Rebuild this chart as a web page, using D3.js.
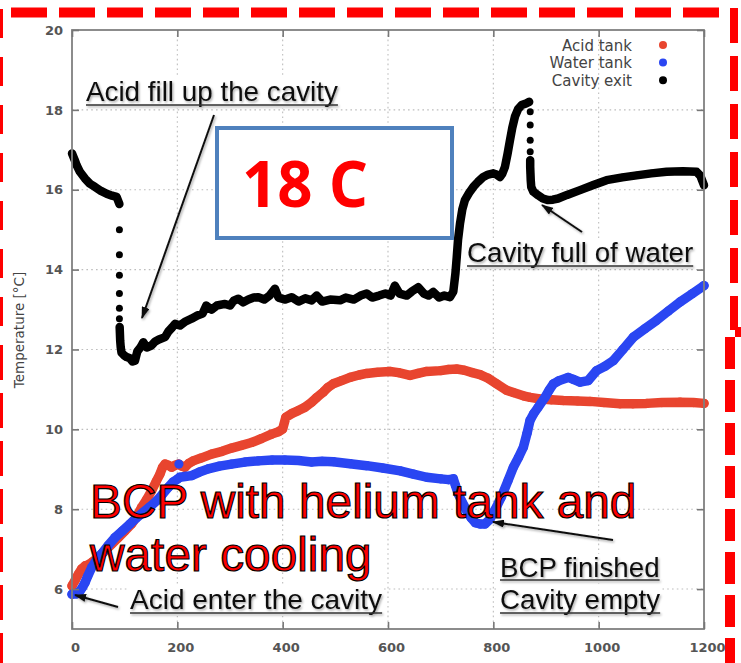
<!DOCTYPE html>
<html><head><meta charset="utf-8">
<script src="https://cdn.jsdelivr.net/npm/d3@7"></script>
<style>body{margin:0;background:#fff}svg{display:block}</style>
</head><body>
<svg id="chart" width="741" height="663"></svg>
<script>
// ---------- data ----------
const xTicks = [0, 200, 400, 600, 800, 1000, 1200];
const yTicks = [6, 8, 10, 12, 14, 16, 18, 20];
const seriesNames = ["Acid tank", "Water tank", "Cavity exit"];
const seriesColors = ["#e8452f", "#2a46f2", "#000000"];

// [time s, temperature °C]
const acidTank = [
[0,6.08],[6,6.22],[12,6.37],[18,6.50],[24.7,6.58],[30,6.60],[37,6.66],[50,6.80],[62.7,6.96],[75,7.12],
[88,7.29],[100,7.45],[113,7.63],[122,7.80],[132,8.04],[142,8.25],[151,8.46],[160,8.70],[167,8.88],[172,9.05],
[176.6,9.13],[183,9.10],[189,9.05],[196,9.10],[202,9.13],[208,9.08],[214.5,9.05],[222,9.15],[230,9.21],[245,9.28],
[265,9.38],[285,9.45],[303,9.53],[322,9.60],[341,9.67],[360,9.77],[379,9.88],[392,9.94],[400,10.01],[406,10.30],
[418,10.40],[429.7,10.47],[442,10.55],[455,10.68],[465,10.80],[477,10.93],[486,11.05],[496,11.14],[512,11.22],[528,11.30],
[545,11.36],[559.5,11.40],[580,11.43],[603.8,11.45],[620,11.42],[641.8,11.35],[657,11.40],[673.5,11.45],[700,11.47],[715,11.50],
[730.5,11.51],[745,11.48],[760,11.42],[774.7,11.37],[790,11.28],[806,11.14],[825,10.98],[838,10.92],[857,10.84],[870,10.80],
[888.6,10.76],[910,10.74],[933,10.72],[960,10.71],[983.5,10.70],[1010,10.67],[1040.5,10.64],[1065,10.64],[1091,10.65],[1120,10.67],
[1154.5,10.68],[1180,10.67],[1200,10.65]
];
const waterTank = [
[0,5.87],[8,5.88],[15,5.95],[20,6.05],[24.7,6.16],[30,6.33],[37.4,6.54],[46,6.72],[56,6.88],[68,7.08],
[81.6,7.29],[95,7.45],[110,7.63],[122,7.78],[135,7.92],[148,8.06],[160.8,8.21],[172,8.38],[183,8.55],[192,8.68],
[201,8.76],[203,9.13],[204.5,8.80],[215,8.82],[227,8.84],[242,8.93],[258.8,9.01],[280,9.08],[303,9.13],[328,9.18],
[353.7,9.21],[380,9.23],[404,9.23],[430,9.22],[455,9.18],[475,9.20],[496,9.19],[528,9.14],[559.5,9.09],[590,9.03],
[623,8.96],[648,8.88],[673.5,8.80],[700,8.76],[715,8.74],[724,8.76],[728,8.60],[733.5,8.38],[740,8.20],[749.5,7.96],
[758,7.78],[766,7.66],[774.7,7.63],[784,7.63],[793.6,7.75],[803,7.98],[815,8.30],[828,8.72],[838,9.05],[848,9.30],
[857,9.55],[864,9.90],[869.6,10.22],[877,10.40],[885,10.55],[898,10.80],[906,10.98],[914,11.14],[925,11.22],[942,11.30],
[952,11.25],[964.6,11.18],[980,11.22],[996,11.47],[1012,11.58],[1027.8,11.72],[1046,12.00],[1066,12.31],[1088,12.52],[1110,12.73],
[1132,12.96],[1154.5,13.19],[1178,13.40],[1200,13.60]
];
const cavityExit = [
[0,16.91],[5,16.75],[9,16.61],[15,16.45],[24.7,16.28],[34,16.15],[43.7,16.07],[55,15.97],[65.8,15.90],[76,15.85],[84.8,15.82],
[90,15.64],[90,15.0],[90,14.37],[90,13.86],[90,13.40],[90,13.03],[90,12.77],[90.5,12.56],[91,12.39],[91.5,12.22],[92.5,12.06],[94,11.92],
[99,11.85],[103.8,11.81],[110,11.78],[115,11.70],[119.6,11.72],[124,11.95],[130,12.05],[135.4,12.18],[142,12.05],[151,12.10],
[158,12.20],[165,12.25],[176.6,12.31],[183,12.45],[190,12.55],[195.6,12.64],[205,12.60],[215,12.70],[227,12.77],[238,12.85],
[248,12.90],[255,13.10],[265,13.00],[275,13.10],[290.5,13.14],[300,13.10],[307,13.22],[315.8,13.27],[325,13.18],[335,13.25],
[345,13.30],[353.7,13.31],[365,13.25],[375,13.35],[385.4,13.52],[392,13.30],[405,13.25],[417,13.31],[430,13.20],[443,13.28],
[455,13.23],[464.6,13.35],[475,13.20],[490,13.25],[509,13.23],[520,13.30],[535,13.25],[548,13.35],[559.5,13.40],[570,13.30],
[583,13.35],[595,13.40],[605,13.35],[613,13.60],[622,13.40],[635.5,13.35],[645,13.45],[657.5,13.56],[668,13.40],[677,13.35],
[686,13.44],[697,13.30],[707,13.35],[717.7,13.31],[724,13.45],[728,13.90],[730.5,14.31],[733,14.75],[736.7,15.15],[741,15.50],
[746,15.74],[754,15.92],[762,16.07],[771,16.20],[781,16.32],[790,16.38],[800,16.41],[806,16.38],[812.6,16.32],[817,16.40],
[822,16.57],[827,16.90],[831.6,17.24],[836,17.55],[841,17.83],[847,18.02],[853.8,18.12],[862,18.16],[868,18.20],
[870,17.95],[870,17.62],[870,17.24],[870,16.95],[870,16.74],[870,16.57],[870.5,16.41],[871,16.24],[872,16.07],[876,15.95],
[885,15.86],[894,15.78],[904,15.74],[913,15.75],[923,15.78],[940,15.87],[964.6,15.99],[990,16.12],[1015,16.24],[1045,16.31],
[1072,16.36],[1100,16.41],[1129,16.45],[1160,16.46],[1186,16.45],[1193,16.35],[1200,16.11]
];

const annotationTexts = ["Acid fill up the cavity", "Cavity full of water", "Acid enter the cavity", "BCP finished", "Cavity empty"];
const boxLabel = "18 C";
const titleLines = ["BCP with helium tank and", "water cooling"];
const yTitle = "Temperature [°C]";

// ---------- chart ----------
const svg = d3.select("#chart");
const W = 741, H = 663;
const plot = {left: 72, top: 30, right: 704, bottom: 629};
const x = d3.scaleLinear().domain([0, 1200]).range([plot.left, plot.right]);
const y = d3.scaleLinear().domain([5, 20]).range([plot.bottom, plot.top]);

const defs = svg.append("defs");
const shadow = defs.append("filter").attr("id", "shadow").attr("x", "-10%").attr("y", "-30%").attr("width", "130%").attr("height", "180%");
shadow.append("feDropShadow").attr("dx", 1.2).attr("dy", 1.5).attr("stdDeviation", 1)
  .attr("flood-color", "#000").attr("flood-opacity", 0.35);
defs.append("marker").attr("id", "arrow").attr("viewBox", "0 0 12 8")
  .attr("refX", 11).attr("refY", 4).attr("markerWidth", 12).attr("markerHeight", 8)
  .attr("markerUnits", "userSpaceOnUse").attr("orient", "auto")
  .append("path").attr("d", "M0,0 L12,4 L0,8 Z").attr("fill", "#111");

svg.append("rect").attr("width", W).attr("height", H).attr("fill", "#fff");

// grid
const grid = svg.append("g").attr("stroke", "#bdbdbd").attr("stroke-width", 1.1).attr("stroke-dasharray", "1.6,3.2");
grid.selectAll(".gx").data(xTicks.filter(d => d > 0 && d < 1200)).join("line")
  .attr("x1", d => x(d)).attr("x2", d => x(d)).attr("y1", plot.top).attr("y2", plot.bottom);
grid.selectAll(".gy").data(yTicks.filter(d => d < 20)).join("line")
  .attr("y1", d => y(d)).attr("y2", d => y(d)).attr("x1", plot.left).attr("x2", plot.right);

// series: consecutive samples are joined unless they are (almost) at the same time with a big jump
function runsOf(data) {
  const runs = [];
  let cur = [data[0]];
  for (let i = 1; i < data.length; i++) {
    const a = data[i - 1], b = data[i];
    const dx = Math.abs(x(b[0]) - x(a[0])), dy = Math.abs(y(b[1]) - y(a[1]));
    if (dx >= 1.1 || dy < 8) cur.push(b); else { runs.push(cur); cur = [b]; }
  }
  runs.push(cur);
  return runs;
}
const line = d3.line().x(d => x(d[0])).y(d => y(d[1]));
function drawSeries(data, color, width, r) {
  const g = svg.append("g");
  g.selectAll("path").data(runsOf(data).filter(rr => rr.length > 1)).join("path")
    .attr("d", line).attr("fill", "none").attr("stroke", color).attr("stroke-width", width)
    .attr("stroke-linecap", "round").attr("stroke-linejoin", "round");
  g.selectAll("circle").data(data).join("circle")
    .attr("cx", d => x(d[0])).attr("cy", d => y(d[1])).attr("r", r).attr("fill", color);
}
drawSeries(acidTank, seriesColors[0], 9.5, 4.6);
drawSeries(waterTank, seriesColors[1], 9.5, 4.6);
drawSeries(cavityExit, seriesColors[2], 8.5, 3.5);

// frame
svg.append("rect").attr("x", plot.left).attr("y", plot.top)
  .attr("width", plot.right - plot.left).attr("height", plot.bottom - plot.top)
  .attr("fill", "none").attr("stroke", "#808080").attr("stroke-width", 1.8);

// axes
const tickFont = "DejaVu Sans, Verdana, sans-serif";
const ax = svg.append("g").attr("transform", `translate(0,${plot.bottom})`)
  .call(d3.axisBottom(x).tickValues(xTicks).tickFormat(d3.format("d")).tickSizeInner(-7).tickSizeOuter(0).tickPadding(14));
const ay = svg.append("g").attr("transform", `translate(${plot.left},0)`)
  .call(d3.axisLeft(y).tickValues(yTicks).tickFormat(d3.format("d")).tickSizeInner(-7).tickSizeOuter(0).tickPadding(9));
const axT = svg.append("g").attr("transform", `translate(0,${plot.top})`)
  .call(d3.axisTop(x).tickValues(xTicks).tickSizeInner(-7).tickSizeOuter(0).tickFormat(""));
const ayR = svg.append("g").attr("transform", `translate(${plot.right},0)`)
  .call(d3.axisRight(y).tickValues(yTicks).tickSizeInner(-7).tickSizeOuter(0).tickFormat(""));
[ax, ay, axT, ayR].forEach(g => {
  g.select(".domain").remove();
  g.selectAll(".tick line").attr("stroke", "#777").attr("stroke-width", 1.6);
  g.selectAll(".tick text").attr("fill", "#555").attr("font-family", tickFont)
    .attr("font-size", 13).attr("font-weight", "bold");
});
ax.selectAll(".tick text").attr("x", 3);

// y title
svg.append("text").attr("transform", "translate(24,330) rotate(-90)")
  .attr("text-anchor", "middle").attr("font-family", tickFont).attr("font-size", 13.5)
  .attr("fill", "#444").text(yTitle);

// legend
const lg = svg.append("g");
seriesNames.forEach((n, i) => {
  const cy = 45 + i * 17.6;
  lg.append("text").attr("x", 632).attr("y", cy + 5.5).attr("text-anchor", "end")
    .attr("font-family", tickFont).attr("font-size", 15).attr("fill", "#444").text(n);
  lg.append("circle").attr("cx", 663).attr("cy", cy).attr("r", 4).attr("fill", seriesColors[i]);
});

// annotations (text with white background, underline, soft shadow)
const annFont = "Liberation Sans, Arial, sans-serif";
function annotation(txt, tx, ty, size, ulOff) {
  const g = svg.append("g");
  const bg = g.append("rect").attr("fill", "#fff");
  const fg = g.append("g").attr("filter", "url(#shadow)");
  const t = fg.append("text").attr("x", tx).attr("y", ty).attr("font-family", annFont)
    .attr("font-size", size).attr("fill", "#111").text(txt);
  const bb = t.node().getBBox();
  fg.append("line").attr("x1", bb.x).attr("x2", bb.x + bb.width)
    .attr("y1", ty + ulOff).attr("y2", ty + ulOff).attr("stroke", "#333").attr("stroke-width", 1.5);
  bg.attr("x", bb.x - 2).attr("y", bb.y + 2).attr("width", bb.width + 4).attr("height", ty + ulOff + 3 - bb.y - 2);
}
annotation(annotationTexts[0], 86, 101, 27.8, 4);
annotation(annotationTexts[1], 467, 262, 27.7, 4);
annotation(annotationTexts[2], 130, 609, 28, 4);
annotation(annotationTexts[3], 500, 577, 27.7, 3);
annotation(annotationTexts[4], 500, 609, 27.7, 4);

// arrows
const arrows = [
  [[214, 115], [142, 318]],
  [[582, 232], [542, 205]],
  [[118, 607], [75, 595]],
  [[613, 540], [493, 522]]
];
svg.append("g").attr("filter", "url(#shadow)").selectAll("line").data(arrows).join("line")
  .attr("x1", d => d[0][0]).attr("y1", d => d[0][1]).attr("x2", d => d[1][0]).attr("y2", d => d[1][1])
  .attr("stroke", "#111").attr("stroke-width", 2).attr("marker-end", "url(#arrow)");

// 18 C box
svg.append("rect").attr("x", 217).attr("y", 128).attr("width", 235).attr("height", 110)
  .attr("fill", "#fff").attr("stroke", "#4f81bd").attr("stroke-width", 4);
svg.append("text").attr("x", 242).attr("y", 207).attr("font-family", "Open Sans, Liberation Sans, Arial, sans-serif")
  .attr("font-weight", "bold").attr("font-size", 64).attr("fill", "#ff0000")
  .attr("textLength", 126).attr("lengthAdjust", "spacingAndGlyphs").text(boxLabel);

// big red title
titleLines.forEach((s, i) => {
  svg.append("text").attr("x", 90).attr("y", 518 + i * 53).attr("font-family", annFont)
    .attr("font-size", 47.8).attr("fill", "#ff0000").attr("stroke", "#000").attr("stroke-width", 1.2)
    .text(s);
});

// red dashed border
const border = svg.append("g").attr("stroke", "#ff0000").attr("fill", "none");
border.append("line").attr("x1", 11).attr("x2", 720).attr("y1", 12.5).attr("y2", 12.5)
  .attr("stroke-width", 10).attr("stroke-dasharray", "36,12");
border.append("line").attr("x1", 0).attr("x2", 0).attr("y1", 9).attr("y2", 330)
  .attr("stroke-width", 6).attr("stroke-dasharray", "29,19");
border.append("line").attr("x1", 0).attr("x2", 0).attr("y1", 345).attr("y2", 663)
  .attr("stroke-width", 6).attr("stroke-dasharray", "35,13");
border.append("line").attr("x1", 734).attr("x2", 734).attr("y1", 8).attr("y2", 330)
  .attr("stroke-width", 8).attr("stroke-dasharray", "35,13");
border.append("line").attr("x1", 730).attr("x2", 730).attr("y1", 337).attr("y2", 663)
  .attr("stroke-width", 10).attr("stroke-dasharray", "32,11");
svg.append("rect").attr("x", 735).attr("y", 327).attr("width", 6).attr("height", 10).attr("fill", "#ff0000");
</script>
</body></html>
